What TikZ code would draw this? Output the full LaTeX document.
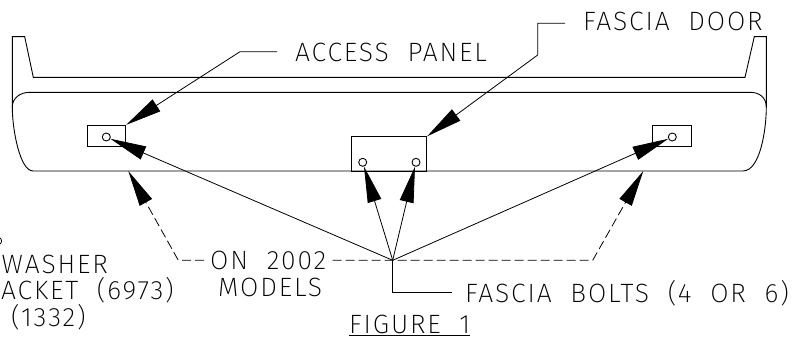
\documentclass[tikz,border=0pt]{standalone}
\usepackage{fontspec}
\usepackage{tikz}
\usetikzlibrary{arrows.meta}
\newfontfamily\cadfont{Fira Sans ExtraLight}[LetterSpace=7, WordSpace=2]

\tikzset{
	part/.style = {line width = 0.9pt, draw = black},
	hole/.style = {draw, shape = circle, line width = 0.9pt, minimum size = 8pt, inner sep = 0pt},
	lbl/.style = {inner sep = 0pt, font = \cadfont\fontsize{26.5}{26.5}\selectfont},
	lead/.style = {line width = 0.8pt, -{Triangle[length = 36pt, width = 14pt]}},
	leaddash/.style = {lead, dash pattern = on 9pt off 4pt}
}

\begin{document}
\begin{tikzpicture}[x = 1pt, y = -1pt]
	\useasboundingbox (0, 0) rectangle (792, 337);

	% bumper
	\draw[part] (12.3, 107) -- (12.3, 36.7) -- (24.7, 36.7) -- (33.3, 77.3) -- (745, 77.3)
		-- (754.3, 36.7) -- (766.3, 36.7) -- (766.3, 107);
	\draw[part] (30, 92.3) -- (750, 92.3) .. controls (760, 92.3) and (766.3, 98) .. (766.3, 107)
		.. controls (766.3, 130) and (760, 171) .. (743, 171) -- (33, 171)
		.. controls (20, 171) and (12.3, 130) .. (12.3, 107)
		.. controls (12.3, 98) and (20, 92.3) .. (30, 92.3);

	\node[part, inner sep = 0pt, minimum width = 38.4pt, minimum height = 21pt] (panelL) at (106.5, 135.8) {};
	\node[part, inner sep = 0pt, minimum width = 75pt, minimum height = 34.3pt] (door) at (389.2, 153.9) {};
	\node[part, inner sep = 0pt, minimum width = 39pt, minimum height = 21pt] (panelR) at (672.2, 135.8) {};

	\node[hole] (h1) at (106.3, 137) {};
	\node[hole] (h2) at (362.7, 162.3) {};
	\node[hole] (h3) at (416, 162.3) {};
	\node[hole] (h4) at (672.3, 137) {};

	% labels
	\node[lbl, anchor = west] (access) at (295, 52) {ACCESS PANEL};
	\node[lbl, anchor = west] (fdoor) at (583, 21.5) {FASCIA DOOR};
	\node[lbl, anchor = west] (on2002) at (210, 260) {ON 2002};
	\node[lbl, anchor = west] (models) at (218, 287) {MODELS};
	\node[lbl, anchor = west] (bolts) at (465, 293) {FASCIA BOLTS (4 OR 6)};
	\node[lbl, anchor = west] (fig) at (349, 324) {FIGURE 1};
	\node[lbl, anchor = west] (washer) at (1.5, 264) {WASHER};
	\node[lbl, anchor = east] (bracket) at (174, 290) {ACKET (6973)};
	\node[lbl, anchor = west] (num) at (11, 317) {(1332)};

	\coordinate (hub) at (392.7, 260.3);
	\coordinate (accbend) at (240, 51.7);
	\coordinate (doorbend1) at (537.7, 23.3);
	\coordinate (doorbend2) at (537.7, 55);
	\coordinate (dashLs) at (204, 260.3);
	\coordinate (dashRs) at (332.7, 260.3);
	\coordinate (dashL) at (178.3, 260.3);
	\coordinate (dashR) at (592.7, 260.3);
	\coordinate (tipL) at (128.3, 171);
	\coordinate (tipR) at (643.3, 171);
	\coordinate (boltbend) at (392.7, 292.7);
	\coordinate (figL) at (349, 335.5);
	\coordinate (figR) at (470, 335.5);
	\coordinate (scrapA) at (0, 238);
	\coordinate (scrapB) at (0, 244);

	\draw[lead] ([xshift = -18pt]access.west |- accbend) -- (accbend) -- (panelL.north east);
	\draw[lead] ([xshift = -18pt]fdoor.west |- doorbend1) -- (doorbend1) -- (doorbend2) -- (door.north east);
	\draw[lead] (hub) -- (h1);
	\draw[lead] (hub) -- (h2);
	\draw[lead] (hub) -- (h3);
	\draw[lead] (hub) -- (h4);
	\draw[leaddash] (dashLs) -- (dashL) -- (tipL);
	\draw[leaddash] (dashRs) -- (dashR) -- (tipR);
	\draw[line width = 0.8pt] (hub) -- (boltbend) -- ([xshift = -13pt]bolts.west |- boltbend);
	\draw[line width = 0.8pt] (figL) -- (figR);
	\draw[line width = 0.8pt] (scrapA) .. controls (2, 239) and (2, 243) .. (scrapB);
\end{tikzpicture}
\end{document}
